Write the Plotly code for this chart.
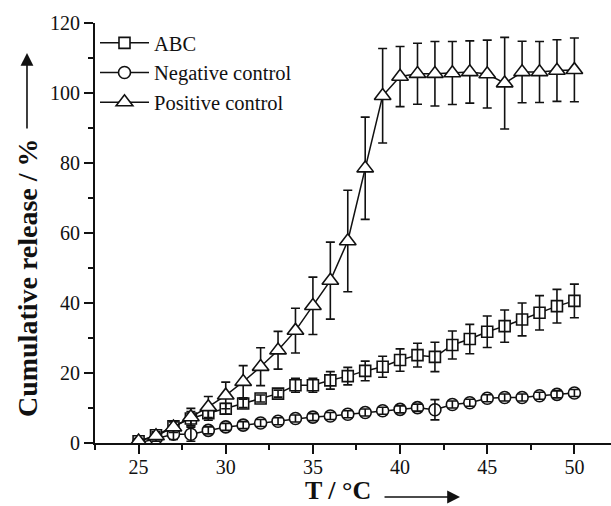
import plotly.graph_objects as go

temps = list(range(25, 51))

abc_y = [0.5, 2.2, 4.8, 7.0, 8.5, 9.8, 11.3, 12.7, 14.1, 16.5, 16.5, 17.9, 19.1,
         20.6, 21.8, 23.7, 25.1, 24.6, 28.0, 29.7, 31.8, 33.4, 35.3, 37.2, 39.1, 40.6]
abc_err = [0.5, 1.0, 1.5, 2.0, 2.0, 1.5, 1.2, 1.0, 1.0, 2.0, 2.0, 2.5, 2.5,
           2.8, 3.0, 3.2, 3.4, 4.2, 4.0, 4.2, 4.5, 4.6, 4.7, 4.9, 4.8, 4.8]

neg_y = [0.0, 1.3, 2.5, 2.5, 3.6, 4.6, 5.1, 5.7, 6.2, 7.0, 7.4, 7.7, 8.2,
         8.7, 9.2, 9.6, 10.1, 9.5, 11.0, 11.5, 12.8, 13.0, 13.0, 13.5, 13.9, 14.3]
neg_err = [0.3, 0.8, 1.5, 2.0, 1.0, 1.0, 1.0, 1.0, 1.0, 1.0, 1.0, 1.0, 1.0,
           1.0, 1.0, 1.0, 1.0, 2.9, 1.0, 1.0, 1.0, 1.0, 1.0, 1.0, 1.0, 1.0]

pos_y = [0.5, 2.0, 4.5, 7.4, 10.3, 13.6, 17.5, 21.8, 26.5, 32.1, 39.2, 46.4, 57.7,
         78.5, 99.2, 104.7, 105.5, 105.5, 105.7, 106.0, 105.4, 102.8, 106.0, 106.0, 106.4, 106.6]
pos_err = [0.5, 1.0, 1.5, 2.5, 3.0, 3.8, 4.6, 5.4, 5.4, 6.4, 8.2, 11.0, 14.5,
           14.6, 13.5, 8.6, 8.7, 9.2, 9.0, 8.9, 9.7, 13.1, 8.8, 8.7, 8.8, 9.1]

series_names = ["ABC", "Negative control", "Positive control"]

FONT = "Liberation Serif"
BLACK = "#111111"

fig = go.Figure()

def err(vals, on=True):
    return dict(type="data", array=vals, visible=on, color=BLACK, thickness=1.6, width=4.5)

# ABC
fig.add_trace(go.Scatter(
    x=temps, y=abc_y, name=series_names[0], mode="lines+markers",
    line=dict(color=BLACK, width=1.5),
    marker=dict(symbol="square", size=11, color="white", line=dict(color=BLACK, width=1.6)),
))
fig.add_trace(go.Scatter(
    x=temps, y=abc_y, mode="markers", showlegend=False, hoverinfo="skip",
    marker=dict(size=1, color="rgba(0,0,0,0)"), error_y=err(abc_err),
))
# Negative control
fig.add_trace(go.Scatter(
    x=temps, y=neg_y, name=series_names[1], mode="lines+markers",
    line=dict(color=BLACK, width=1.5),
    marker=dict(symbol="circle", size=12, color="white", line=dict(color=BLACK, width=1.6)),
))
fig.add_trace(go.Scatter(
    x=temps, y=neg_y, mode="markers", showlegend=False, hoverinfo="skip",
    marker=dict(size=1, color="rgba(0,0,0,0)"), error_y=err(neg_err),
))
# Positive control
fig.add_trace(go.Scatter(
    x=temps, y=pos_y, name=series_names[2], mode="lines+markers",
    line=dict(color=BLACK, width=1.5),
    marker=dict(symbol="triangle-up", size=14.5, color="white", line=dict(color=BLACK, width=1.6)),
    error_y=err(pos_err),
))

axis_common = dict(
    showline=True, linecolor=BLACK, linewidth=2, mirror=False,
    showgrid=False, zeroline=False,
    ticks="outside", ticklen=9, tickwidth=2, tickcolor=BLACK,
    tickfont=dict(family=FONT, size=20, color=BLACK),
)

fig.update_xaxes(range=[22.5, 52.1], dtick=5, tick0=0, ticklabelstandoff=-4,
                 minor=dict(dtick=2.5, ticks="outside", ticklen=5, tickwidth=2, tickcolor=BLACK),
                 **axis_common)
fig.update_yaxes(range=[0, 120], dtick=20, tick0=0,
                 minor=dict(dtick=10, ticks="outside", ticklen=5, tickwidth=2, tickcolor=BLACK),
                 **axis_common)

annotations = [
    dict(text="<b>Cumulative release / %</b>", textangle=-90, xref="paper", yref="paper",
         x=-0.1318, y=0.395, showarrow=False, font=dict(family=FONT, size=28, color=BLACK),
         xanchor="center", yanchor="middle"),
    dict(text="", xref="paper", yref="paper", x=-0.1318, y=0.9286,
         showarrow=True, ax=0, ay=77, axref="pixel", ayref="pixel",
         arrowhead=2, arrowsize=1.6, arrowwidth=1.6, arrowcolor=BLACK),
    dict(text="<b>T / °C</b>", xref="paper", yref="paper",
         x=0.47, y=-0.1495, showarrow=False, font=dict(family=FONT, size=26, color=BLACK),
         xanchor="center", yanchor="bottom", borderpad=0),
    dict(text="", xref="paper", yref="paper", x=0.7074, y=-0.1286,
         showarrow=True, ax=-77, ay=0, axref="pixel", ayref="pixel",
         arrowhead=2, arrowsize=1.6, arrowwidth=1.6, arrowcolor=BLACK),
]

fig.update_layout(
    width=611, height=506,
    margin=dict(l=95, r=0, t=23, b=63),
    paper_bgcolor="white", plot_bgcolor="white",
    font=dict(family=FONT, size=20, color=BLACK),
    showlegend=True,
    legend=dict(x=0.0, y=1.0, xanchor="left", yanchor="top",
                bgcolor="rgba(0,0,0,0)", borderwidth=0, itemwidth=49,
                font=dict(family=FONT, size=20.5, color=BLACK), tracegroupgap=0),
    annotations=annotations,
)

fig.write_html("out.html")
